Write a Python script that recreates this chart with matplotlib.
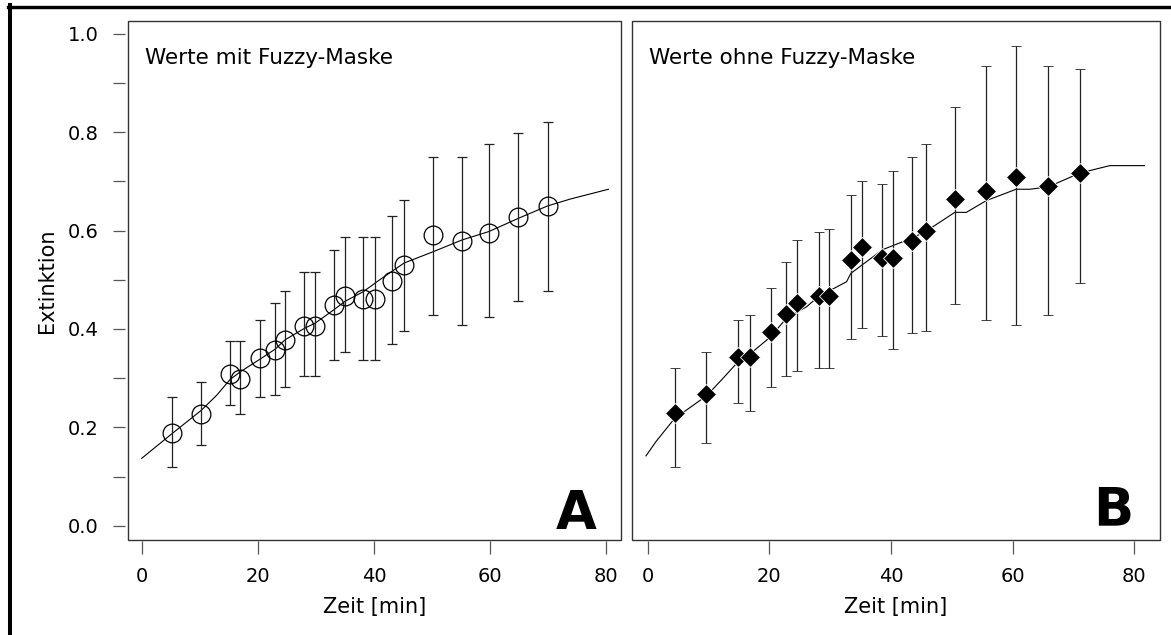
import numpy as np
import matplotlib.pyplot as plt
from matplotlib.lines import Line2D
from matplotlib.patches import Rectangle

plt.rcParams["font.family"] = "DejaVu Sans"

# Panel A: values with fuzzy mask (open circles)
zeit_a = [5.2, 10.2, 15.2, 17.0, 20.3, 23.0, 24.7, 28.0, 29.9, 33.1,
          35.0, 38.2, 40.2, 43.2, 45.2, 50.2, 55.2, 59.8, 64.9, 69.9]
ext_a = [0.188, 0.227, 0.308, 0.298, 0.340, 0.357, 0.378, 0.406, 0.405, 0.449,
         0.466, 0.460, 0.460, 0.498, 0.530, 0.590, 0.579, 0.595, 0.628, 0.650]
hi_a = [0.261, 0.293, 0.376, 0.376, 0.418, 0.452, 0.478, 0.516, 0.516, 0.561,
        0.587, 0.587, 0.587, 0.630, 0.662, 0.749, 0.749, 0.776, 0.798, 0.820]
lo_a = [0.120, 0.164, 0.245, 0.228, 0.262, 0.266, 0.283, 0.305, 0.305, 0.337,
        0.354, 0.337, 0.337, 0.370, 0.396, 0.429, 0.408, 0.424, 0.456, 0.478]
fit_x_a = [0.0, 5.2, 10.2, 12.9, 15.2, 17.0, 20.3, 23.0, 24.7, 28.0, 29.9,
           33.1, 35.0, 38.2, 41.0, 45.2, 50.2, 55.2, 59.8, 64.9, 69.9, 73.8, 80.4]
fit_y_a = [0.137, 0.187, 0.234, 0.265, 0.297, 0.313, 0.338, 0.359, 0.378, 0.401,
           0.412, 0.439, 0.456, 0.476, 0.500, 0.534, 0.557, 0.581, 0.598, 0.625,
           0.650, 0.664, 0.684]

# Panel B: values without fuzzy mask (filled diamonds)
zeit_b = [4.4, 9.65, 14.9, 16.8, 20.2, 22.8, 24.6, 28.1, 29.8, 33.4,
          35.2, 38.6, 40.4, 43.5, 45.7, 50.5, 55.7, 60.6, 65.9, 71.1]
ext_b = [0.230, 0.268, 0.343, 0.343, 0.393, 0.431, 0.452, 0.468, 0.468, 0.540,
         0.566, 0.544, 0.544, 0.578, 0.599, 0.664, 0.681, 0.708, 0.691, 0.717]
hi_b = [0.320, 0.353, 0.418, 0.429, 0.483, 0.537, 0.581, 0.598, 0.603, 0.673,
        0.700, 0.694, 0.722, 0.749, 0.776, 0.852, 0.934, 0.976, 0.934, 0.928]
lo_b = [0.120, 0.169, 0.250, 0.234, 0.283, 0.305, 0.315, 0.320, 0.320, 0.380,
        0.402, 0.386, 0.359, 0.391, 0.396, 0.451, 0.418, 0.408, 0.429, 0.494]
fit_x_b = [-0.3, 1.4, 4.4, 9.65, 12.1, 14.9, 16.8, 20.2, 22.8, 26.1, 28.1,
           32.7, 33.4, 38.6, 43.5, 45.7, 50.5, 52.4, 55.7, 60.6, 62.9, 65.9,
           71.1, 76.0, 81.7]
fit_y_b = [0.142, 0.172, 0.218, 0.264, 0.296, 0.334, 0.349, 0.384, 0.422, 0.445,
           0.466, 0.496, 0.513, 0.561, 0.585, 0.598, 0.637, 0.637, 0.661, 0.684,
           0.684, 0.689, 0.717, 0.732, 0.732]

W, H = 1171, 635
fig = plt.figure(figsize=(W / 100, H / 100), dpi=100)


def px_axes(left, right, top, bottom):
    return fig.add_axes([left / W, (H - bottom) / H, (right - left) / W, (bottom - top) / H])


def style(ax, xlim, show_y):
    ax.set_xlim(*xlim)
    ax.set_ylim(-0.029, 1.026)
    for s in ax.spines.values():
        s.set_visible(False)
    ax.spines["left"].set_position(("outward", 2.2))
    ax.spines["bottom"].set_position(("outward", 1.0))
    ax.add_patch(Rectangle((0, 0), 1, 1, transform=ax.transAxes, fill=False,
                           ec="#333333", lw=1.0, clip_on=False, zorder=5))
    ax.set_xticks([0, 20, 40, 60, 80])
    ax.tick_params(axis="x", length=9.5, width=0.9, color="#555555",
                   labelsize=14, pad=9)
    if show_y:
        ax.set_yticks(np.arange(0, 1.01, 0.2))
        ax.set_yticks(np.arange(0.1, 1.0, 0.2), minor=True)
        ax.tick_params(axis="y", which="both", length=9, width=0.9,
                       color="#555555", labelsize=14, pad=10)
        ax.set_ylabel("Extinktion", fontsize=15, labelpad=8)
    else:
        ax.set_yticks([])
    ax.set_xlabel("Zeit [min]", fontsize=15, labelpad=8)


# Panel A
ax1 = px_axes(128, 621, 21, 540)
style(ax1, (-2.36, 82.56), True)
ax1.plot(fit_x_a, fit_y_a, color="black", lw=0.8)
err_a = [np.array(ext_a) - np.array(lo_a), np.array(hi_a) - np.array(ext_a)]
ax1.errorbar(zeit_a, ext_a, yerr=err_a, fmt="o", ms=13.5, mfc="none",
             mec="black", mew=0.9, ecolor="#222222", elinewidth=0.9,
             capsize=3.5, capthick=0.9)
ax1.text(0.0345, 0.917, "Werte mit Fuzzy-Maske", transform=ax1.transAxes,
         fontsize=15.5, va="baseline", ha="left")
ax1.text(0.951, 0.021, "A", transform=ax1.transAxes, fontsize=38,
         fontweight="bold", va="baseline", ha="right")

# Panel B
ax2 = px_axes(632, 1160, 21, 540)
style(ax2, (-2.6, 84.26), False)
ax2.plot(fit_x_b, fit_y_b, color="black", lw=0.8)
err_b = [np.array(ext_b) - np.array(lo_b), np.array(hi_b) - np.array(ext_b)]
ax2.errorbar(zeit_b, ext_b, yerr=err_b, fmt="D", ms=10.5, mfc="black",
             mec="white", mew=0.6, ecolor="#222222", elinewidth=0.9,
             capsize=3.5, capthick=0.9)
ax2.text(0.032, 0.917, "Werte ohne Fuzzy-Maske", transform=ax2.transAxes,
         fontsize=15.5, va="baseline", ha="left")
ax2.text(0.949, 0.029, "B", transform=ax2.transAxes, fontsize=38,
         fontweight="bold", va="baseline", ha="right")

# thick frame lines (top and left) of the original figure
fig.add_artist(Line2D([8 / W, 1], [1 - 6.7 / H, 1 - 6.7 / H], color="black",
                      lw=2.4, transform=fig.transFigure))
fig.add_artist(Line2D([8 / W, 1], [1 - 9.3 / H, 1 - 9.3 / H], color="#c8c8c8",
                      lw=0.7, transform=fig.transFigure))
fig.add_artist(Line2D([10 / W, 10 / W], [0, 1 - 5 / H], color="black",
                      lw=2.9, transform=fig.transFigure))

fig.savefig("out.png", dpi=100)
